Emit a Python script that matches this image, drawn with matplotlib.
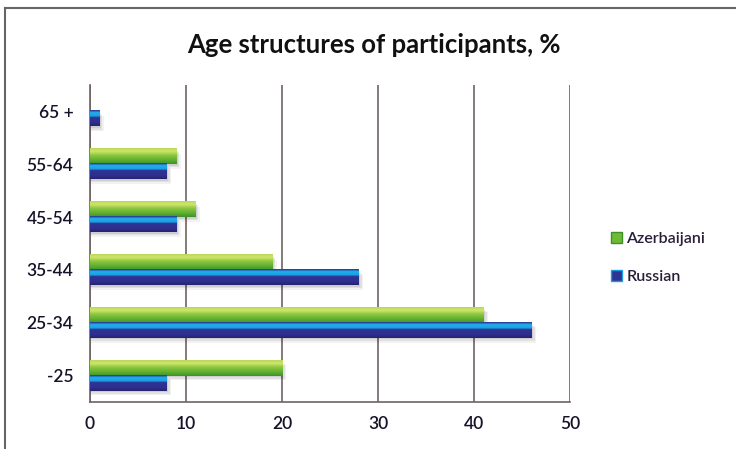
import numpy as np
import matplotlib.pyplot as plt
from matplotlib.colors import LinearSegmentedColormap
from matplotlib.patches import Rectangle

# age groups, bottom to top
groups = ["-25", "25-34", "35-44", "45-54", "55-64", "65 +"]
azerbaijani = [20, 41, 19, 11, 9, 0]
russian = [8, 46, 28, 9, 8, 1]
xticks = [0, 10, 20, 30, 40, 50]

plt.rcParams['font.family'] = ['Lato', 'DejaVu Sans']

# vertical colour ramps (bottom -> top) for the glossy bars
green_cmap = LinearSegmentedColormap.from_list(
    "green", [(0.0, "#3f8f2a"), (0.25, "#5fb030"), (0.55, "#8cc63f"),
              (0.8, "#cfe66a"), (1.0, "#b9d85a")])
blue_cmap = LinearSegmentedColormap.from_list(
    "blue", [(0.0, "#24236f"), (0.2, "#2e2f8e"), (0.55, "#2f3394"),
             (0.62, "#1a9ee0"), (0.85, "#22b0ee"), (1.0, "#2b2f8a")])

grid_col = "#6e6262"
text_col = "#15122a"

fig = plt.figure(figsize=(7.36, 4.49), dpi=100)
ax = fig.add_axes([0.1223, 0.1047, 0.6522, 0.706])

y = np.arange(len(groups))
h = 0.285
bars_az = ax.barh(y + h / 2, azerbaijani, height=h, color="none", zorder=3)
bars_ru = ax.barh(y - h / 2, russian, height=h, color="none", zorder=3)

grad = np.linspace(0, 1, 64).reshape(-1, 1)
for bars, cmap in ((bars_az, green_cmap), (bars_ru, blue_cmap)):
    for b in bars:
        x0, y0 = b.get_x(), b.get_y()
        w, bh = b.get_width(), b.get_height()
        if w <= 0:
            continue
        # soft drop shadow
        for k, a in ((0.45, 0.05), (0.3, 0.07), (0.15, 0.08)):
            ax.add_patch(Rectangle((x0, y0 - k * 0.2), w + k, bh,
                                   color="#000000", alpha=a, lw=0, zorder=2))
        ax.imshow(grad, cmap=cmap, origin="lower", aspect="auto",
                  extent=(x0, x0 + w, y0, y0 + bh), zorder=3,
                  interpolation="bilinear")

ax.set_xlim(0, 50)
ax.set_ylim(-0.5, len(groups) - 0.5)
ax.set_xticks(xticks)
ax.set_yticks(y)
ax.set_yticklabels(groups)
ax.tick_params(length=0, labelsize=12.5, colors=text_col, pad=12)
ax.tick_params(axis="x", pad=10)
for lab in ax.get_xticklabels() + ax.get_yticklabels():
    lab.set_fontweight("semibold")
ax.grid(axis="x", color=grid_col, lw=1.2, zorder=1)
for side in ("top", "right"):
    ax.spines[side].set_visible(False)
for side in ("left", "bottom"):
    ax.spines[side].set_color(grid_col)
    ax.spines[side].set_linewidth(1.2)

fig.text(0.508, 0.9, "Age structures of participants, %", ha="center",
         va="center", fontsize=18.5, fontweight="bold", color="#111111")

handles = [Rectangle((0, 0), 1, 1, facecolor="#6dbb35", edgecolor="#3f8f2a"),
           Rectangle((0, 0), 1, 1, facecolor="#2f3394", edgecolor="#1a9ee0")]
leg = fig.legend(handles, ["Azerbaijani", "Russian"], loc="center left",
                 bbox_to_anchor=(0.81, 0.426), frameon=False,
                 prop={"size": 11.5, "weight": "semibold"},
                 handlelength=0.7, handleheight=0.7, handletextpad=0.3,
                 labelspacing=1.5, labelcolor="#2a1f3a")

# outer frame (top and left edges)
fig.add_artist(plt.Line2D([0.007, 0.007], [0, 0.982], color="#666666", lw=1.5))
fig.add_artist(plt.Line2D([0.007, 1], [0.982, 0.982], color="#666666", lw=1.5))

fig.savefig("out.png", dpi=100)
